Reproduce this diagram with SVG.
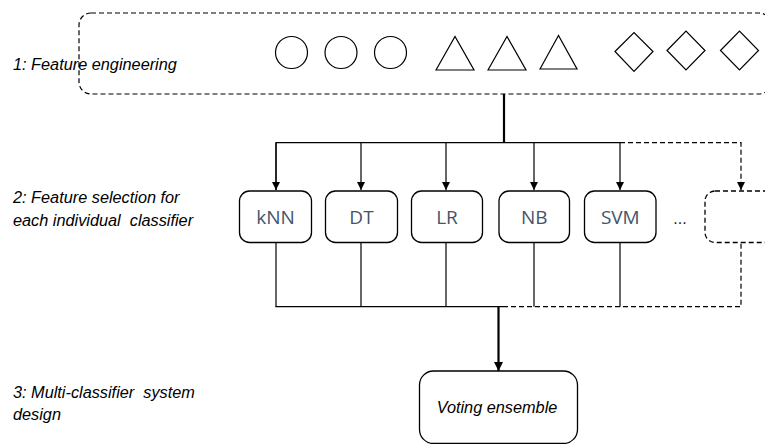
<svg xmlns="http://www.w3.org/2000/svg" width="765" height="444" viewBox="0 0 765 444">
<style>
.lbl{font-family:"Liberation Sans",Arial,sans-serif;font-style:italic;font-size:16.3px;fill:#000;white-space:pre}
.clf{fill:#fff;stroke:#000;stroke-width:1.3}
.dash{stroke-dasharray:5 3}
.ct{font-family:"Open Sans","Liberation Sans",sans-serif;font-size:19px;fill:#44546A;text-anchor:middle}
.ln{fill:none;stroke:#000;stroke-width:1.2}
.thick{fill:none;stroke:#000;stroke-width:2.2}
.shp{fill:none;stroke:#000;stroke-width:1.2}
</style>
<defs>
<marker id="ah" viewBox="0 0 10 10" refX="10" refY="5" markerWidth="8" markerHeight="8" markerUnits="userSpaceOnUse" orient="auto">
<path d="M0,0 L10,5 L0,10 Z" fill="#000"/>
</marker>
<marker id="ahb" viewBox="0 0 10 10" refX="10" refY="5" markerWidth="9" markerHeight="9" markerUnits="userSpaceOnUse" orient="auto">
<path d="M0,0 L10,5 L0,10 Z" fill="#000"/>
</marker>
</defs>
<g id="labels">
<text class="lbl" x="13" y="70">1: Feature engineering</text>
<text class="lbl" x="13" y="203">2: Feature selection for</text>
<text class="lbl" x="13" y="225.5">each individual  classifier</text>
<text class="lbl" x="13" y="398">3: Multi-classifier  system</text>
<text class="lbl" x="13" y="420">design</text>
</g>
<g id="features">
<rect class="shp dash" x="79" y="13" width="692" height="81" rx="12"/>
<circle class="shp" cx="291.5" cy="52.5" r="16"/>
<circle class="shp" cx="341" cy="52.5" r="16"/>
<circle class="shp" cx="390.5" cy="52.5" r="16"/>
<polygon class="shp" points="436,70 455,36.5 474,70"/>
<polygon class="shp" points="488,70 507,36.5 526,70"/>
<polygon class="shp" points="540,69 558.5,35.5 577,69"/>
<polygon class="shp" points="615,51.5 634,32.5 653,51.5 634,71.5"/>
<polygon class="shp" points="667,50.5 686,31 705,50.5 686,70"/>
<polygon class="shp" points="720.5,50.5 739.5,31 758.5,50.5 739.5,70"/>
</g>
<g id="connectors">
<line class="thick" x1="504" y1="94" x2="504" y2="143"/>
<polyline class="ln" points="276,190 276,142.7 620,142.7"/>
<polyline class="ln dash" points="620,142.7 741,142.7 741,190"/>
<line class="ln" x1="276" y1="142.7" x2="276" y2="190" marker-end="url(#ah)"/>
<line class="ln" x1="361" y1="142.7" x2="361" y2="190" marker-end="url(#ah)"/>
<line class="ln" x1="446" y1="142.7" x2="446" y2="190" marker-end="url(#ah)"/>
<line class="ln" x1="534" y1="142.7" x2="534" y2="190" marker-end="url(#ah)"/>
<line class="ln" x1="620" y1="142.7" x2="620" y2="190" marker-end="url(#ah)"/>
<line class="ln" x1="741" y1="185" x2="741" y2="190" marker-end="url(#ah)"/>
<line class="ln" x1="276" y1="242.5" x2="276" y2="306.7"/>
<line class="ln" x1="361" y1="242.5" x2="361" y2="306.7"/>
<line class="ln" x1="446" y1="242.5" x2="446" y2="306.7"/>
<line class="ln" x1="534" y1="242.5" x2="534" y2="306.7"/>
<line class="ln" x1="620" y1="242.5" x2="620" y2="306.7"/>
<line class="ln" x1="275.4" y1="306.7" x2="503" y2="306.7"/>
<polyline class="ln dash" points="503,306.7 741,306.7 741,242.5"/>
<line class="thick" x1="498.5" y1="306" x2="498.5" y2="371" marker-end="url(#ahb)"/>
</g>
<g id="kNN"><rect class="clf" x="239.5" y="191" width="72" height="51.5" rx="10"/><text class="ct" x="275.5" y="223.5">kNN</text></g>
<g id="DT"><rect class="clf" x="325.5" y="191" width="72" height="51.5" rx="10"/><text class="ct" x="361.5" y="223.5">DT</text></g>
<g id="LR"><rect class="clf" x="411.5" y="191" width="71" height="51.5" rx="10"/><text class="ct" x="447" y="223.5">LR</text></g>
<g id="NB"><rect class="clf" x="499" y="191" width="70.5" height="51.5" rx="10"/><text class="ct" x="534.3" y="223.5">NB</text></g>
<g id="SVM"><rect class="clf" x="584.5" y="191" width="71.5" height="51.5" rx="10"/><text class="ct" x="620.3" y="223.5">SVM</text></g>
<g id="ellipsis"><text x="680" y="224" style="font-family:'Liberation Sans',Arial,sans-serif;font-size:16px;fill:#222;text-anchor:middle">...</text></g>
<g id="more"><rect class="clf dash" x="705" y="191" width="72" height="51.5" rx="10"/></g>
<g id="voting"><rect class="clf" x="419.5" y="371" width="158" height="72.5" rx="14"/><text x="497" y="413" style="font-family:'Liberation Sans',Arial,sans-serif;font-style:italic;font-size:16.3px;fill:#000;text-anchor:middle">Voting ensemble</text></g>
</svg>
